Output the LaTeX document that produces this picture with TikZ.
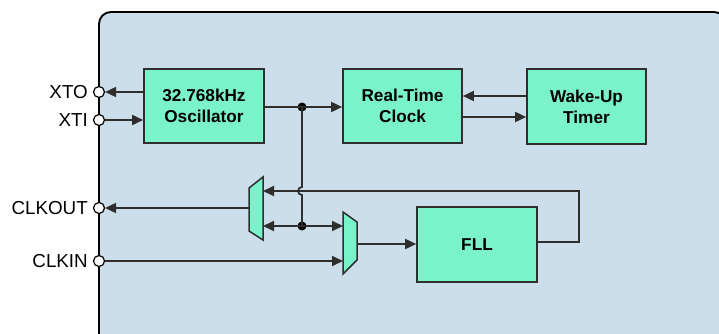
\documentclass[tikz,border=0pt]{standalone}
\usepackage{fontspec}
\setmainfont{Liberation Sans}
\usetikzlibrary{arrows.meta,calc}
\definecolor{panelfill}{HTML}{CCDEEA}
\definecolor{boxfill}{HTML}{7AF2CA}
\definecolor{linegray}{HTML}{2E2E2E}
\begin{document}
\begin{tikzpicture}[x=1pt,y=-1pt,
  blk/.style={draw=linegray,line width=1.7pt,fill=boxfill,inner sep=0pt,
    font=\fontsize{17.2}{21}\selectfont\bfseries,align=center,text=black},
  pin/.style={circle,draw=black,line width=1.2pt,fill=white,minimum size=11pt,inner sep=0pt},
  pinlbl/.style={anchor=east,font=\fontsize{18.8}{20}\selectfont,inner sep=0pt},
  dotn/.style={circle,fill=black,minimum size=9pt,inner sep=0pt},
  wire/.style={draw=linegray,line width=1.8pt},
  arr/.style={wire,-{Triangle[length=11pt,width=10pt]}},
  muxs/.style={draw=linegray,line width=1.5pt,fill=boxfill}]
\useasboundingbox (0,0) rectangle (719,334);
\clip (0,0) rectangle (719,334);
% panel
\draw[fill=panelfill,draw=black,line width=1.9pt,rounded corners=12pt] (99,12) rectangle (726,346);
% blocks
\node[blk,minimum width=120pt,minimum height=74pt] (osc) at (204,106) {32.768kHz\\Oscillator};
\node[blk,minimum width=119pt,minimum height=74pt] (rtc) at (402.5,106) {Real-Time\\Clock};
\node[blk,minimum width=119pt,minimum height=75pt] (wut) at (586.5,106.5) {Wake-Up\\Timer};
\node[blk,minimum width=120pt,minimum height=75pt] (fll) at (477,244.5) {FLL};
% pins
\node[pin] (xto) at (99,92) {};
\node[pin] (xti) at (99,120) {};
\node[pin] (clkout) at (99,208) {};
\node[pin] (clkin) at (99,261) {};
\node[pinlbl] (xtol) at (88,92) {XTO};
\node[pinlbl] (xtil) at (88,120) {XTI};
\node[pinlbl] (clkoutl) at (88,208) {CLKOUT};
\node[pinlbl] (clkinl) at (88,261) {CLKIN};
% muxes
\draw[muxs] (249,188) -- (263,177) -- (263,240) -- (249,231) -- cycle;
\draw[muxs] (343,212) -- (357,222) -- (357,260) -- (343,274) -- cycle;
\coordinate (m1out) at (249,208);
\coordinate (m1a) at (263,191);
\coordinate (m1b) at (263,226);
\coordinate (m2a) at (343,226);
\coordinate (m2b) at (343,261);
\coordinate (m2out) at (357,244);
% dots
\node[dotn] (d1) at (302,107) {};
\node[dotn] (d2) at (302,226) {};
\coordinate (hop) at (302,187);
\coordinate (loopA) at (579,242);
\coordinate (loopB) at (579,191);
% connectors
\draw[arr] (osc.west |- xto) -- (xto);
\draw[arr] (xti) -- (osc.west |- xti);
\draw[arr] (osc.east |- d1) -- (rtc.west |- d1);
\draw[arr] (wut.west |- 0,96) -- (rtc.east |- 0,96);
\draw[arr] (rtc.east |- 0,117) -- (wut.west |- 0,117);
\draw[wire] (d1.center) -- (hop) arc[start angle=270,end angle=90,radius=4] -- (d2.center);
\draw[arr] (d2.center) -- (m1b);
\draw[arr] (d2.center) -- (m2a);
\draw[arr] (clkin) -- (m2b);
\draw[arr] (m2out) -- (fll.west |- m2out);
\draw[arr] (fll.east |- loopA) -- (loopA) -- (loopB) -- (m1a);
\draw[arr] (m1out) -- (clkout);
\end{tikzpicture}
\end{document}
